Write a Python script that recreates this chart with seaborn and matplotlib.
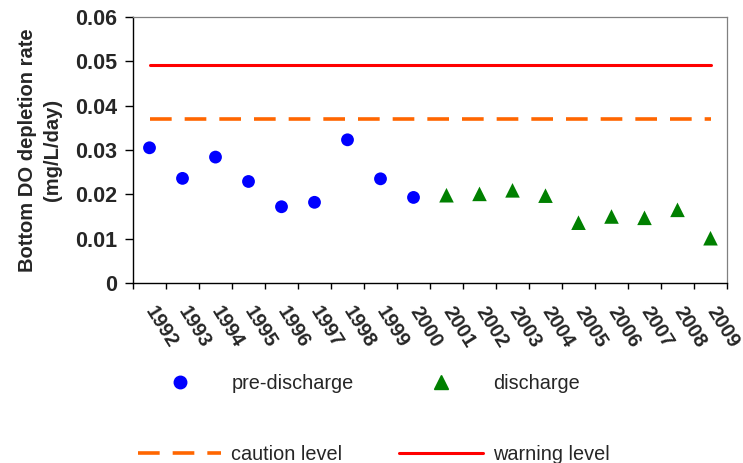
import numpy as np
import pandas as pd
import matplotlib
matplotlib.use("Agg")
import matplotlib.pyplot as plt
from matplotlib.lines import Line2D
from matplotlib.ticker import FixedLocator, NullFormatter
import seaborn as sns

# ---- data ----
years = [str(y) for y in range(1992, 2010)]
pre_years = years[:9]
pre_values = [0.0305, 0.0236, 0.0284, 0.0229, 0.0172, 0.0182, 0.0323, 0.0235, 0.0193]
dis_years = years[9:]
dis_values = [0.0198, 0.0201, 0.0209, 0.0197, 0.0136, 0.0150, 0.0147, 0.0165, 0.0101]
caution_level = 0.0370
warning_level = 0.0491
ytick_values = [0, 0.01, 0.02, 0.03, 0.04, 0.05, 0.06]
ytick_labels = ["0", "0.01", "0.02", "0.03", "0.04", "0.05", "0.06"]

sns.set_style("white")
plt.rcParams["font.family"] = ["Liberation Sans", "DejaVu Sans"]

df = pd.DataFrame({
    "year": pre_years + dis_years,
    "rate": pre_values + dis_values,
    "period": ["pre-discharge"] * len(pre_years) + ["discharge"] * len(dis_years),
})
levels = pd.DataFrame({
    "year": years,
    "caution": [caution_level] * len(years),
    "warning": [warning_level] * len(years),
})

W, H = 743, 463
fig = plt.figure(figsize=(W / 100, H / 100), dpi=100)
ax = fig.add_axes([133 / W, 1 - 283 / H, (727 - 133) / W, (283 - 17) / H])

sns.lineplot(data=levels, x="year", y="caution", ax=ax, color="#FF6600", lw=2.6,
             linestyle=(0, (6.0, 3.6)), sort=False)
sns.lineplot(data=levels, x="year", y="warning", ax=ax, color="#FF0000", lw=2.2, sort=False)
sns.scatterplot(data=df, x="year", y="rate", hue="period", style="period", size="period",
                palette={"pre-discharge": "#0000FF", "discharge": "#008000"},
                markers={"pre-discharge": "o", "discharge": "^"},
                sizes={"pre-discharge": 85, "discharge": 110},
                linewidth=0, ax=ax, legend=False, zorder=3)

ax.set_xlim(-0.5, len(years) - 0.5)
ax.set_ylim(0, 0.06)
ax.set_yticks(ytick_values)
ax.set_yticklabels(ytick_labels, fontsize=15.5, fontweight="bold")
ax.tick_params(axis="y", direction="out", length=5.5, width=1.0, pad=6, left=True, color="black")

ax.set_xticks(range(len(years)))
ax.set_xticklabels(years, fontsize=14.5, fontweight="bold", rotation=-58,
                   ha="left", va="center", rotation_mode="anchor")
ax.tick_params(axis="x", which="major", length=0, pad=18)
ax.xaxis.set_minor_locator(FixedLocator(np.arange(-0.5, len(years), 1.0)))
ax.xaxis.set_minor_formatter(NullFormatter())
ax.tick_params(axis="x", which="minor", direction="out", length=4.5, width=1.0,
               bottom=True, color="black")

ax.set_xlabel("")
ax.set_ylabel("Bottom DO depletion rate\n(mg/L/day)", fontsize=14.5, fontweight="bold",
              linespacing=1.35)
ax.yaxis.set_label_coords(-0.12, 0.5)

for s in ["left", "bottom"]:
    ax.spines[s].set_color("black")
    ax.spines[s].set_linewidth(1.0)
for s in ["top", "right"]:
    ax.spines[s].set_color("#808080")
    ax.spines[s].set_linewidth(0.9)

handles = [
    Line2D([], [], linestyle="none", marker="o", color="#0000FF", markersize=9),
    Line2D([], [], color="#FF6600", lw=2.6, linestyle=(0, (6.0, 3.6))),
    Line2D([], [], linestyle="none", marker="^", color="#008000", markersize=10),
    Line2D([], [], color="#FF0000", lw=2.2),
]
labels = ["pre-discharge", "caution level", "discharge", "warning level"]
fig.legend(handles, labels, ncol=2, loc="upper left",
           bbox_to_anchor=(138 / W, 1 - 374 / H), frameon=False, fontsize=14.3,
           handlelength=4.2, handletextpad=0.5, columnspacing=2.3,
           labelspacing=2.62, borderpad=0, borderaxespad=0)

fig.savefig("out.png", dpi=100)
